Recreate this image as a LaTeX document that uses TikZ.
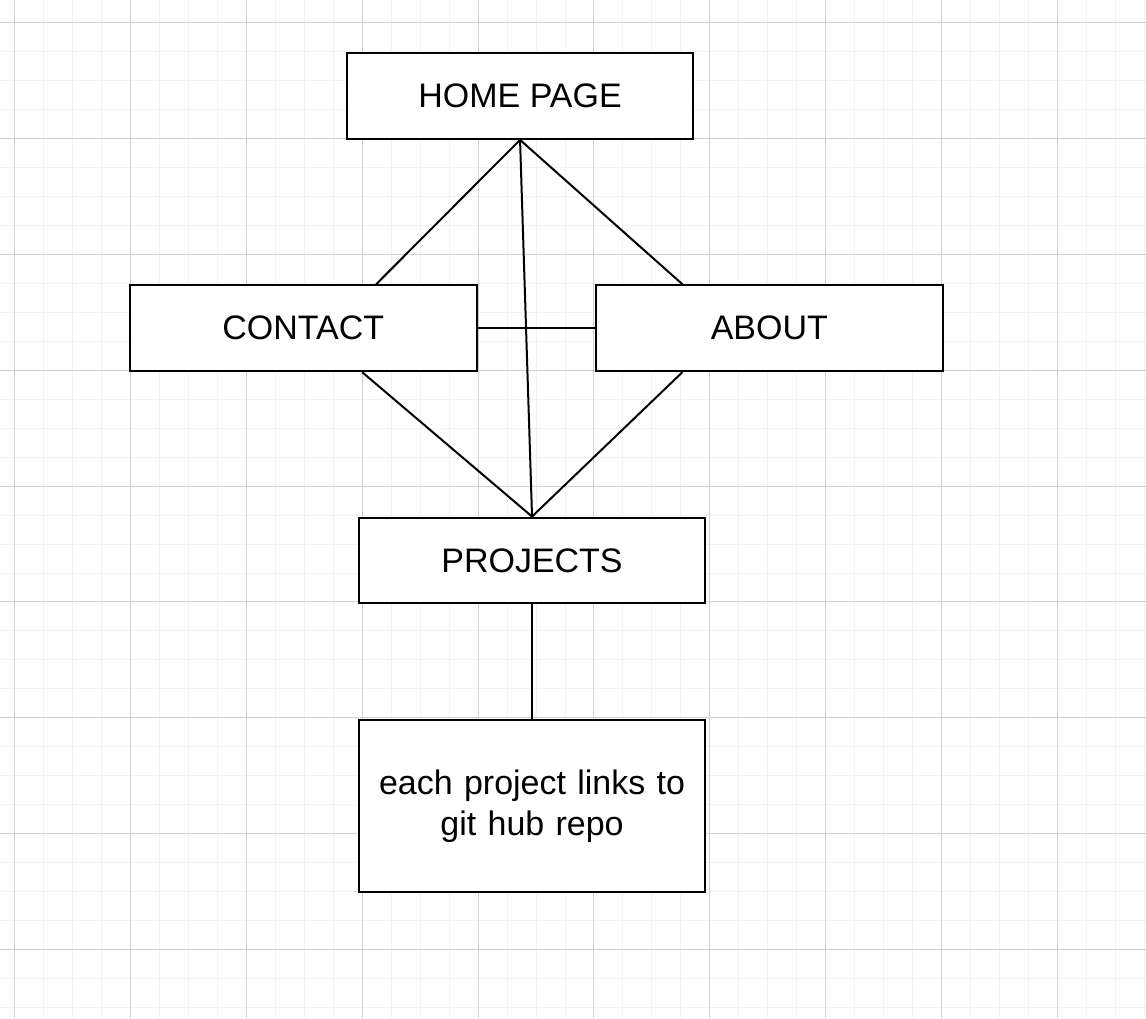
\documentclass[tikz,border=0pt]{standalone}
\usepackage{fontspec}
\setmainfont{Liberation Sans}
\usepackage{tikz}
\usetikzlibrary{positioning}
\definecolor{gridminor}{HTML}{F2F2F2}
\definecolor{gridmajor}{HTML}{D0D0D0}

\begin{document}
\begin{tikzpicture}[
    x=1pt, y=-1pt,
    node distance=232.5pt,
    font=\fontsize{34}{40.5}\selectfont,
    page/.style={
		rectangle,
		draw=black,
		line width=2pt,
		inner sep=0pt,
		text centered,
		minimum width=347pt,
		minimum height=86pt,
		fill=white
	},
	link/.style={
		line width=2pt
	}
  ]
  % background grid
  \fill [white] (0,0) rectangle (1146,1018);
  \foreach \x in {14,43,...,1146}
    \draw [gridminor, line width=1pt] (\x,0) -- (\x,1018);
  \foreach \y in {22,51,...,1018}
    \draw [gridminor, line width=1pt] (0,\y) -- (1146,\y);
  \foreach \x in {14,130,...,1146}
    \draw [gridmajor, line width=1pt] (\x,0) -- (\x,1018);
  \foreach \y in {22,138,...,1018}
    \draw [gridmajor, line width=1pt] (0,\y) -- (1146,\y);

  % We start by placing the blocks
  \node [page] (home) at (520,95.5) {HOME PAGE};

  \node [page, below of=home, xshift=-217pt] (contact) {CONTACT};

  \node [page, below of=home, xshift=249.5pt] (about) {ABOUT};

  \node [page] (projects) at (532,560.5) {PROJECTS};

  \node [page, below of=projects, node distance=246pt, minimum height=172pt,
         text width=347pt, align=center] (repos)
 {%
  each project links to\\
  git hub repo
 };

 \draw [link] (home.south) -- ([xshift=73pt]contact.north);
 \draw [link] (home.south) -- ([xshift=-87pt]about.north);
 \draw [link] (home.south) -- (projects.north);
 \draw [link] (contact) -- (about);
 \draw [link] ([xshift=59pt]contact.south) -- (projects.north);
 \draw [link] ([xshift=-87pt]about.south) -- (projects.north);
 \draw [link] (projects) -- (repos);

\end{tikzpicture}
\end{document}
